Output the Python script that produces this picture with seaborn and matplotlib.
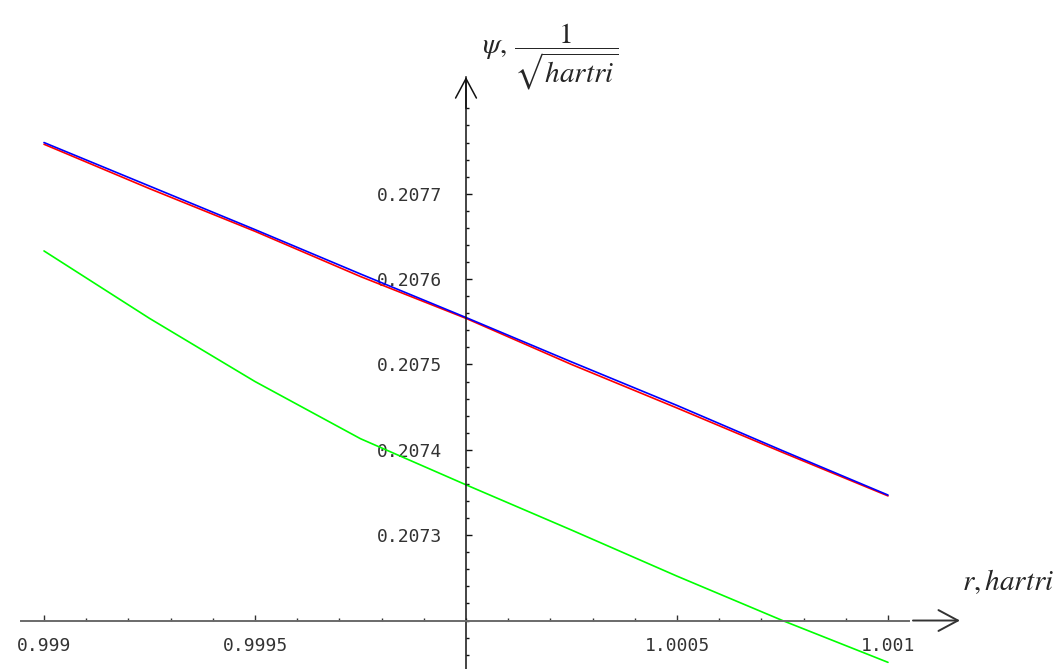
import numpy as np
import pandas as pd
import seaborn as sns
import matplotlib
matplotlib.use("Agg")
import matplotlib.pyplot as plt
from matplotlib.ticker import FixedLocator

# values
r = [0.999, 0.99925, 0.9995, 0.99975, 1.0, 1.00025, 1.0005, 1.00075, 1.001]
psi_blue = [0.207760, 0.207709, 0.207658, 0.207606, 0.207555, 0.207503, 0.207452, 0.207399, 0.207347]
psi_red = [0.207758, 0.207706, 0.207656, 0.207603, 0.207554, 0.207500, 0.207449, 0.207397, 0.207346]
psi_green = [0.207633, 0.207554, 0.207480, 0.207413, 0.207359, 0.207306, 0.207252, 0.207200, 0.207151]

xticks = [0.999, 0.9995, 1.0005, 1.001]
xlabels = ["0.999", "0.9995", "1.0005", "1.001"]
yticks = [0.2073, 0.2074, 0.2075, 0.2076, 0.2077]
ylabels = ["0.2073", "0.2074", "0.2075", "0.2076", "0.2077"]

df = pd.concat([
    pd.DataFrame({"r": r, "psi": psi_red, "curve": "red"}),
    pd.DataFrame({"r": r, "psi": psi_blue, "curve": "blue"}),
    pd.DataFrame({"r": r, "psi": psi_green, "curve": "green"}),
])

sns.set_style("white")
plt.rcParams["mathtext.fontset"] = "stix"

fig = plt.figure(figsize=(10.61, 6.69), dpi=100)
ax = fig.add_axes([0, 0, 1, 1])

sns.lineplot(data=df, x="r", y="psi", hue="curve", sort=False, legend=False,
             palette={"red": "#ff0000", "blue": "#0000ff", "green": "#00ff00"},
             linewidth=1.2, ax=ax)

ax.set_xlim(0.9988957, 1.0014100)
ax.set_ylim(0.2071432, 0.2079270)
ax.set_xlabel("")
ax.set_ylabel("")

# axes crossing in the middle, mathematica style
for s in ["top", "right"]:
    ax.spines[s].set_visible(False)
ax.spines["left"].set_position(("data", 1.0))
ax.spines["bottom"].set_position(("data", 0.2072))
ax.spines["left"].set_bounds(0.2071432, 0.2078368)
ax.spines["bottom"].set_bounds(0.9989455, 1.0010498)
ax.spines["left"].set_color("#111111")
ax.spines["bottom"].set_color("#6a6a6a")
ax.spines["left"].set_linewidth(1.1)
ax.spines["bottom"].set_linewidth(1.4)

ax.annotate("", xy=(1.0, 0.2078368), xytext=(1.0, 0.2078),
            arrowprops=dict(arrowstyle="->, head_length=1.4, head_width=0.75",
                            color="#111111", lw=1.1, shrinkA=0, shrinkB=0))
ax.annotate("", xy=(1.0011706, 0.2072), xytext=(1.0010592, 0.2072),
            arrowprops=dict(arrowstyle="->, head_length=1.4, head_width=0.75",
                            color="#333333", lw=1.4, shrinkA=0, shrinkB=0))

ax.set_xticks(xticks)
ax.set_xticklabels(xlabels)
ax.set_yticks(yticks)
ax.set_yticklabels(ylabels)
ax.xaxis.set_minor_locator(FixedLocator([0.999 + 0.0001 * i for i in range(21)]))
ax.yaxis.set_minor_locator(FixedLocator([0.20716 + 0.00002 * i for i in range(33)]))

mono = ["DejaVu Sans Mono"]
ax.tick_params(axis="x", which="both", bottom=True, top=False)
ax.tick_params(axis="y", which="both", left=True, right=False)
ax.tick_params(axis="x", which="major", direction="in", length=4, width=1, color="#333333",
               pad=12, labelsize=13, labelcolor="#333333")
ax.tick_params(axis="x", which="minor", direction="in", length=2.5, width=1, color="#333333")
ax.tick_params(axis="y", which="major", direction="in", length=4, width=1, color="#111111",
               pad=17, labelsize=13, labelcolor="#333333")
ax.tick_params(axis="y", which="minor", direction="in", length=2.5, width=1, color="#111111")
for t in ax.get_xticklabels() + ax.get_yticklabels():
    t.set_family(mono)

fig.text(962 / 1061, 1 - 590 / 669, r"$r, hartri$", fontsize=21, va="baseline", ha="left")
fig.text(482 / 1061, 1 - 57 / 669, r"$\psi,\,\dfrac{1}{\sqrt{hartri}}$", fontsize=21,
         va="center", ha="left")

fig.savefig("out.png", dpi=100)
